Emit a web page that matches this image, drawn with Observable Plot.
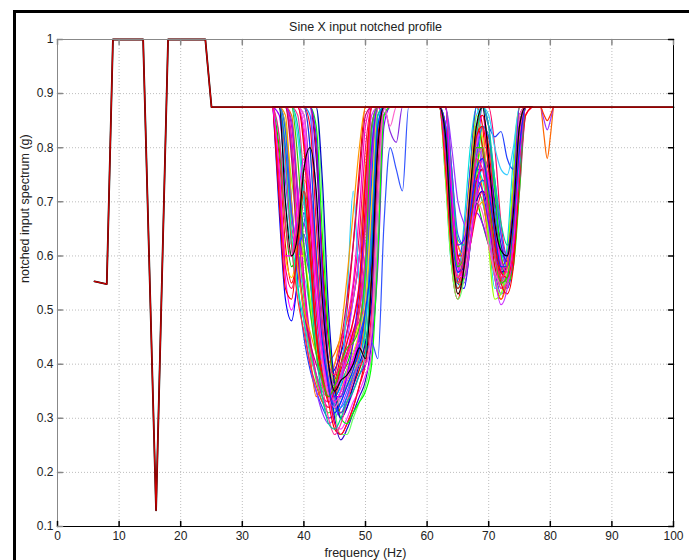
<!DOCTYPE html>
<html><head><meta charset="utf-8">
<script src="https://cdn.jsdelivr.net/npm/d3@7"></script>
<script src="https://cdn.jsdelivr.net/npm/@observablehq/plot@0.6"></script>
<style>
html,body{margin:0;padding:0;background:#fff;}
#wrap{position:relative;width:689px;height:560px;overflow:hidden;background:#fff;}
#frame{position:absolute;left:13px;top:10px;width:800px;height:700px;border-left:3px solid #000;border-top:3px solid #000;pointer-events:none;}
</style></head><body>
<div id="wrap"><div id="frame"></div></div>
<script>
const title = "Sine X input notched profile";
const xLabel = "frequency (Hz)";
const yLabel = "notched input spectrum (g)";
const xTicks = [0,10,20,30,40,50,60,70,80,90,100];
const xTickLabels = ["0","10","20","30","40","50","60","70","80","90","100"];
const yTicks = [0.1,0.2,0.3,0.4,0.5,0.6,0.7,0.8,0.9,1];
const yTickLabels = ["0.1","0.2","0.3","0.4","0.5","0.6","0.7","0.8","0.9","1"];

// common reference profile
const profileFreq = [6, 8, 9, 13.9, 16, 17.95, 24, 25, 100];
const profileVal  = [0.553, 0.548, 1, 1, 0.13, 1, 1, 0.875, 0.875];

// notch regions
const freqA = [35,36,37,38,39,40,41,42,43,44,45,46,47,48,49,50,51,52,53,54,55,56,57];
const freqB = [62,63,64,65,66,67,68,69,70,71,72,73,74,75,76,77];
const freqC = [78.5,79,79.5,80,80.5];

const runsA = [
[.875,.78,.62,.55,.60,.66,.58,.47,.40,.36,.37,.42,.50,.62,.76,.875,.875,.875,.875,.875,.875,.875,.875],
[.875,.72,.56,.50,.55,.64,.56,.45,.38,.34,.35,.38,.42,.48,.55,.68,.84,.875,.875,.875,.875,.875,.875],
[.875,.80,.66,.58,.62,.72,.66,.52,.42,.37,.36,.38,.40,.44,.50,.60,.78,.875,.875,.875,.875,.875,.875],
[.875,.68,.52,.48,.56,.68,.62,.50,.42,.38,.39,.42,.46,.52,.60,.74,.875,.875,.875,.875,.875,.875,.875],
[.875,.82,.70,.62,.64,.70,.62,.50,.41,.36,.34,.36,.38,.40,.42,.48,.66,.86,.875,.875,.875,.875,.875],
[.875,.76,.60,.56,.62,.74,.70,.56,.45,.39,.37,.39,.41,.44,.48,.56,.74,.875,.875,.875,.875,.875,.875],
[.875,.86,.74,.64,.62,.66,.58,.48,.40,.35,.33,.35,.37,.40,.45,.58,.80,.875,.875,.875,.875,.875,.875],
[.875,.74,.58,.54,.60,.70,.60,.46,.38,.34,.35,.40,.46,.54,.64,.80,.875,.875,.875,.875,.875,.875,.875],
[.875,.875,.84,.70,.55,.45,.39,.35,.32,.30,.31,.33,.36,.39,.44,.60,.83,.875,.875,.875,.875,.875,.875],
[.875,.875,.875,.80,.64,.52,.43,.37,.33,.31,.32,.34,.36,.37,.39,.46,.70,.875,.875,.875,.875,.875,.875],
[.875,.875,.80,.66,.58,.50,.42,.38,.36,.37,.40,.44,.48,.55,.68,.84,.875,.875,.875,.875,.875,.875,.875],
[.875,.875,.76,.62,.54,.56,.50,.42,.36,.34,.36,.38,.36,.38,.43,.55,.78,.875,.875,.875,.875,.875,.875],
[.875,.875,.875,.86,.72,.56,.42,.34,.36,.40,.42,.45,.48,.52,.60,.76,.875,.875,.875,.875,.875,.875,.875],
[.875,.875,.875,.84,.70,.56,.45,.38,.34,.32,.33,.35,.38,.41,.44,.50,.68,.875,.86,.875,.875,.875,.875],
[.875,.875,.82,.68,.60,.60,.52,.44,.38,.35,.33,.35,.37,.39,.42,.52,.76,.875,.875,.875,.875,.875,.875],
[.875,.875,.875,.85,.72,.62,.56,.48,.41,.36,.33,.34,.37,.40,.44,.50,.64,.84,.875,.83,.81,.875,.875],
[.875,.875,.875,.80,.62,.48,.40,.35,.31,.29,.30,.32,.35,.38,.42,.54,.78,.875,.875,.875,.875,.875,.875],
[.875,.875,.78,.62,.52,.46,.40,.36,.33,.32,.34,.37,.40,.40,.42,.50,.72,.875,.875,.875,.875,.875,.875],
[.875,.875,.80,.64,.54,.48,.42,.38,.35,.34,.35,.37,.39,.42,.46,.56,.80,.875,.875,.875,.875,.875,.875],
[.875,.875,.875,.82,.66,.54,.44,.38,.34,.33,.35,.38,.42,.46,.48,.52,.74,.875,.875,.875,.875,.875,.875],
[.875,.875,.84,.74,.66,.60,.52,.44,.38,.34,.32,.34,.36,.38,.41,.48,.72,.875,.875,.875,.875,.875,.875],
[.875,.875,.80,.68,.62,.64,.56,.46,.39,.35,.34,.36,.39,.42,.45,.52,.74,.875,.875,.875,.875,.875,.875],
[.875,.875,.875,.875,.82,.70,.58,.48,.40,.34,.30,.36,.52,.72,.55,.50,.62,.84,.875,.875,.875,.875,.875],
[.875,.875,.875,.78,.60,.50,.44,.40,.37,.36,.38,.44,.52,.62,.74,.86,.875,.875,.875,.875,.875,.875,.875],
[.875,.875,.86,.70,.58,.50,.46,.42,.40,.38,.40,.46,.56,.68,.80,.875,.875,.875,.875,.875,.875,.875,.875],
[.875,.875,.875,.875,.875,.82,.66,.50,.40,.33,.28,.27,.29,.32,.36,.42,.58,.80,.875,.875,.875,.875,.875],
[.875,.875,.875,.875,.875,.875,.875,.78,.58,.40,.30,.26,.28,.31,.34,.37,.45,.70,.875,.875,.875,.875,.875],
[.875,.875,.875,.875,.875,.875,.875,.875,.70,.46,.32,.27,.27,.30,.33,.36,.42,.64,.86,.875,.875,.875,.875],
[.875,.875,.875,.875,.875,.84,.72,.56,.42,.34,.29,.28,.30,.33,.35,.38,.42,.62,.86,.875,.875,.875,.875],
[.875,.875,.875,.875,.875,.875,.86,.70,.52,.40,.34,.32,.34,.37,.41,.47,.64,.86,.875,.875,.875,.875,.875],
[.875,.875,.875,.875,.875,.875,.875,.80,.60,.44,.36,.31,.33,.36,.39,.43,.56,.82,.875,.875,.875,.875,.875],
[.875,.875,.875,.875,.875,.875,.84,.66,.48,.36,.29,.27,.29,.32,.36,.40,.50,.76,.875,.875,.875,.875,.875],
[.875,.875,.875,.875,.875,.86,.74,.58,.46,.38,.33,.30,.32,.35,.38,.40,.44,.58,.84,.875,.875,.875,.875],
[.875,.875,.875,.875,.875,.875,.875,.84,.64,.46,.36,.30,.29,.31,.33,.35,.40,.60,.86,.875,.875,.875,.875],
[.875,.875,.875,.875,.875,.82,.70,.56,.45,.38,.35,.37,.41,.45,.50,.60,.78,.875,.875,.875,.875,.875,.875],
[.875,.875,.875,.875,.875,.875,.80,.62,.46,.38,.33,.35,.39,.42,.46,.52,.70,.875,.875,.875,.875,.875,.875],
[.875,.875,.875,.875,.875,.875,.875,.875,.74,.50,.36,.30,.32,.36,.40,.44,.52,.74,.875,.875,.875,.875,.875],
[.875,.875,.83,.68,.62,.66,.72,.60,.46,.37,.32,.31,.34,.38,.40,.42,.44,.41,.66,.80,.76,.72,.875],
[.875,.875,.875,.875,.86,.74,.60,.46,.36,.30,.27,.29,.33,.37,.40,.40,.48,.74,.875,.875,.875,.875,.875],
[.875,.875,.875,.875,.875,.80,.62,.46,.38,.33,.35,.39,.42,.46,.52,.70,.875,.875,.875,.875,.875,.875,.875],
[.875,.875,.875,.875,.875,.875,.875,.70,.50,.40,.36,.38,.44,.52,.60,.72,.86,.875,.875,.875,.875,.875,.875],
[.875,.875,.875,.875,.84,.72,.56,.42,.34,.29,.28,.30,.33,.35,.38,.42,.62,.86,.875,.875,.875,.875,.875],
[.875,.875,.875,.875,.875,.86,.70,.52,.40,.34,.32,.34,.37,.41,.44,.40,.46,.70,.875,.84,.875,.875,.875],
[.875,.875,.875,.875,.875,.875,.875,.82,.56,.40,.34,.34,.38,.44,.54,.66,.80,.875,.875,.875,.875,.875,.875],
[.875,.70,.54,.52,.62,.72,.60,.45,.37,.34,.36,.40,.44,.48,.55,.74,.875,.875,.875,.875,.875,.875,.875],
[.875,.76,.60,.60,.70,.78,.68,.52,.42,.36,.33,.35,.38,.41,.46,.60,.84,.875,.875,.875,.875,.875,.875],
[.875,.875,.875,.875,.78,.62,.50,.42,.37,.34,.36,.40,.43,.44,.47,.58,.84,.875,.875,.875,.875,.875,.875],
[.875,.875,.875,.875,.875,.875,.80,.60,.44,.36,.31,.33,.36,.39,.43,.50,.60,.84,.875,.875,.875,.875,.875],
[.875,.82,.66,.60,.66,.76,.72,.58,.46,.40,.38,.40,.42,.45,.50,.66,.875,.875,.875,.875,.875,.875,.875],
[.875,.875,.70,.60,.64,.76,.80,.72,.52,.40,.35,.37,.38,.40,.43,.41,.56,.80,.875,.875,.875,.875,.875]
];

const runsB = [
[.875,.76,.58,.52,.60,.76,.875,.84,.68,.56,.52,.58,.74,.875,.875,.875],
[.875,.875,.72,.58,.56,.64,.72,.70,.64,.58,.56,.58,.64,.80,.875,.875],
[.875,.80,.64,.58,.62,.68,.70,.66,.62,.60,.58,.60,.70,.86,.875,.875],
[.875,.875,.68,.55,.54,.62,.74,.76,.68,.62,.56,.54,.60,.78,.875,.875],
[.875,.74,.58,.56,.66,.80,.875,.80,.64,.54,.55,.62,.78,.875,.875,.875],
[.875,.84,.66,.57,.60,.68,.76,.80,.74,.66,.60,.57,.63,.82,.875,.875],
[.875,.78,.60,.54,.57,.64,.68,.66,.62,.57,.53,.55,.66,.84,.875,.875],
[.875,.875,.76,.62,.60,.68,.82,.875,.875,.80,.66,.60,.62,.74,.875,.875],
[.875,.82,.66,.60,.64,.76,.875,.875,.84,.82,.83,.78,.76,.86,.875,.875],
[.875,.80,.62,.55,.58,.66,.72,.70,.64,.58,.54,.56,.66,.82,.875,.875],
[.875,.875,.70,.57,.58,.68,.80,.86,.76,.62,.57,.59,.70,.86,.875,.875],
[.875,.84,.68,.60,.62,.72,.86,.875,.86,.80,.76,.75,.80,.875,.875,.875],
[.875,.76,.60,.55,.62,.72,.78,.72,.62,.56,.52,.56,.70,.86,.875,.875],
[.875,.875,.74,.60,.58,.64,.70,.72,.70,.64,.58,.57,.64,.80,.875,.875],
[.875,.82,.64,.56,.58,.64,.70,.74,.70,.62,.57,.58,.66,.82,.875,.875],
[.875,.875,.70,.56,.55,.62,.78,.875,.84,.68,.58,.55,.60,.76,.875,.875],
[.875,.875,.80,.70,.66,.64,.70,.80,.80,.72,.64,.58,.62,.78,.875,.875],
[.875,.78,.60,.53,.56,.66,.76,.78,.72,.64,.56,.54,.62,.80,.875,.875],
[.875,.80,.64,.58,.61,.70,.76,.74,.68,.60,.55,.57,.68,.84,.875,.875],
[.875,.875,.72,.59,.57,.62,.70,.74,.72,.68,.62,.58,.60,.72,.86,.875],
[.875,.74,.58,.54,.60,.74,.86,.80,.62,.52,.53,.60,.74,.875,.875,.875],
[.875,.84,.68,.60,.62,.68,.72,.74,.72,.66,.60,.60,.66,.80,.875,.875],
[.875,.875,.66,.54,.56,.66,.78,.80,.72,.62,.55,.56,.64,.82,.875,.875],
[.875,.80,.62,.56,.60,.70,.80,.80,.72,.62,.57,.57,.64,.78,.875,.875],
[.875,.875,.74,.62,.60,.64,.68,.70,.66,.60,.56,.59,.70,.875,.875,.875],
[.875,.78,.60,.55,.60,.72,.84,.86,.80,.68,.60,.56,.60,.74,.86,.875],
[.875,.82,.66,.58,.58,.64,.72,.78,.76,.70,.62,.59,.62,.76,.875,.875],
[.875,.76,.58,.52,.56,.68,.80,.78,.66,.56,.53,.57,.70,.875,.875,.875],
[.875,.875,.70,.58,.59,.68,.80,.84,.78,.66,.57,.55,.62,.80,.875,.875],
[.875,.84,.66,.57,.58,.64,.72,.76,.74,.68,.61,.58,.62,.78,.875,.875],
[.875,.80,.62,.56,.62,.74,.84,.80,.68,.58,.55,.58,.68,.84,.875,.875],
[.875,.875,.72,.60,.58,.62,.68,.72,.70,.64,.58,.58,.64,.80,.875,.875],
[.875,.78,.62,.56,.60,.68,.76,.76,.70,.62,.56,.56,.64,.82,.875,.875],
[.875,.82,.64,.55,.56,.62,.74,.84,.82,.72,.60,.55,.58,.72,.875,.875],
[.875,.875,.68,.56,.58,.68,.80,.80,.70,.60,.54,.55,.64,.82,.875,.875],
[.875,.76,.60,.56,.63,.74,.84,.82,.72,.62,.56,.57,.66,.84,.875,.875],
[.875,.82,.64,.57,.58,.64,.70,.72,.68,.62,.57,.58,.66,.80,.875,.875],
[.875,.875,.76,.64,.62,.68,.78,.84,.82,.74,.64,.60,.62,.74,.875,.875],
[.875,.80,.62,.55,.58,.68,.78,.80,.72,.60,.54,.55,.64,.82,.875,.875],
[.875,.875,.70,.60,.60,.66,.74,.76,.70,.62,.55,.53,.58,.74,.875,.875],
[.875,.78,.62,.57,.62,.72,.80,.78,.66,.56,.51,.54,.66,.84,.875,.875],
[.875,.875,.74,.63,.62,.70,.82,.875,.84,.74,.66,.62,.64,.76,.875,.875],
[.875,.80,.64,.56,.57,.64,.70,.68,.62,.57,.55,.58,.68,.86,.875,.875],
[.875,.84,.70,.62,.63,.68,.74,.72,.66,.60,.58,.60,.70,.875,.875,.875],
[.875,.76,.60,.54,.58,.70,.82,.84,.76,.64,.57,.56,.62,.78,.875,.875],
[.875,.875,.72,.58,.56,.62,.72,.78,.74,.66,.59,.57,.62,.78,.875,.875],
[.875,.82,.66,.58,.60,.70,.80,.80,.70,.60,.55,.56,.66,.84,.875,.875],
[.875,.80,.64,.57,.59,.68,.76,.78,.72,.64,.58,.58,.66,.80,.875,.875],
[.875,.78,.62,.56,.60,.70,.78,.76,.68,.60,.56,.58,.68,.84,.875,.875],
[.875,.82,.62,.53,.58,.72,.84,.875,.78,.66,.61,.60,.68,.84,.875,.875]
];

const runColors = [
"#ff0000","#ff00ff","#00cc00","#0000ff","#00e0e0","#ffcc00","#9900ff","#ff0066",
"#2040ff","#33ff33","#ff00cc","#33ccff","#ff6600","#cc00cc","#ffff00","#8a2be2",
"#9933ff","#ff3333","#00ff99","#ff00aa","#99ff00","#0066ff","#22d0ff","#cc0066",
"#ff9900","#ff0000","#3300cc","#66ff66","#ff33ff","#0099ff","#e60000","#ff0033",
"#7f00ff","#00ff00","#e600e6","#ffcc33","#0000cc","#3355ff","#ff3399","#ff0000",
"#cc33ff","#00cc99","#ff66cc","#6600ff","#ff0000","#ff00ff","#33cc00","#0033ff",
"#ff1a75","#000000"
];

const runsC = [
[.875,.82,.78,.82,.875],
[.875,.85,.833,.85,.875],
[.875,.86,.85,.86,.875]
];
const runColorsC = ["#ff6600","#9933ff","#ff3300"];

const rows = [];
runsA.forEach((vals, i) => {
  vals.forEach((v, k) => rows.push({run: i, f: freqA[k], v, color: runColors[i]}));
  runsB[i].forEach((v, k) => rows.push({run: i, f: freqB[k], v, color: runColors[i]}));
});
runsC.forEach((vals, i) => vals.forEach((v, k) => rows.push({run: 100 + i, f: freqC[k], v, color: runColorsC[i]})));
const profile = profileFreq.map((f, i) => ({f, v: profileVal[i]}));

const tick = {draw(ctx, l) { ctx.moveTo(0, 0); ctx.lineTo(0, -l); }};
const font = "'Liberation Sans', Arial, Helvetica, sans-serif";

const chart = Plot.plot({
  width: 689, height: 560,
  marginLeft: 57, marginRight: 16, marginTop: 39, marginBottom: 34,
  x: {domain: [0, 100], axis: null},
  y: {domain: [0.1, 1], axis: null},
  color: {type: "identity"},
  style: {fontFamily: font, background: "#fff", overflow: "visible"},
  marks: [
    Plot.ruleX(xTicks.slice(1, -1), {stroke: "#bdbdbd", strokeDasharray: "1,2"}),
    Plot.ruleY(yTicks.slice(1, -1), {stroke: "#bdbdbd", strokeDasharray: "1,2"}),
    Plot.line(rows, {x: "f", y: "v", z: "run", stroke: "color", strokeWidth: 1.2, curve: "monotone-x"}),
    Plot.line(profile, {x: "f", y: "v", stroke: "#000", strokeWidth: 1.8}),
    Plot.line(profile, {x: "f", y: "v", stroke: "#cc0000", strokeWidth: 1.3}),
    Plot.ruleX([0], {stroke: "#888"}),
    Plot.ruleY([1], {stroke: "#888"}),
    Plot.ruleY([0.1], {stroke: "#000"}),
    Plot.ruleX([100], {stroke: "#000"}),
    Plot.vector(xTicks, {x: d => d, frameAnchor: "bottom", length: 5, rotate: 0, anchor: "start", shape: tick, stroke: "#000"}),
    Plot.vector(xTicks, {x: d => d, frameAnchor: "top", length: 5, rotate: 180, anchor: "start", shape: tick, stroke: "#888"}),
    Plot.vector(yTicks, {y: d => d, frameAnchor: "left", length: 5, rotate: 90, anchor: "start", shape: tick, stroke: "#888"}),
    Plot.vector(yTicks, {y: d => d, frameAnchor: "right", length: 5, rotate: -90, anchor: "start", shape: tick, stroke: "#000"}),
    Plot.text(xTicks, {x: d => d, frameAnchor: "bottom", dy: 13, text: (d, i) => xTickLabels[i], fontSize: 12, fill: "#222"}),
    Plot.text(yTicks, {y: d => d, frameAnchor: "left", dx: -4, textAnchor: "end", text: (d, i) => yTickLabels[i], fontSize: 12, fill: "#222"}),
    Plot.text([title], {frameAnchor: "top", dy: -17, text: d => d, fontSize: 12.5, fill: "#222"}),
    Plot.text([xLabel], {frameAnchor: "bottom", dy: 30, text: d => d, fontSize: 12.5, fill: "#222"}),
    Plot.text([yLabel], {frameAnchor: "left", dx: -33, rotate: -90, text: d => d, fontSize: 12.5, fill: "#222"})
  ]
});
document.getElementById("wrap").insertBefore(chart, document.getElementById("frame"));
</script>
</body></html>
